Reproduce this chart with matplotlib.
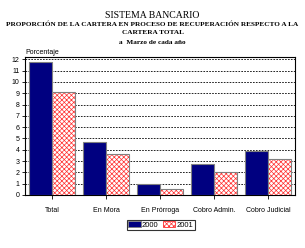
import numpy as np
import matplotlib
matplotlib.use("Agg")
import matplotlib.pyplot as plt
from matplotlib.patches import Patch

categorias = ["Total", "En Mora", "En Prórroga", "Cobro Admin.", "Cobro Judicial"]
valores_2000 = [11.8, 4.65, 0.95, 2.75, 3.85]
valores_2001 = [9.1, 3.6, 0.5, 2.0, 3.15]
yticks = list(range(0, 13))

plt.rcParams['hatch.linewidth'] = 0.5

fig = plt.figure(figsize=(3.05, 2.48), dpi=100)
ax = fig.add_axes([0.082, 0.214, 0.885, 0.556])

x = np.arange(len(categorias))
w = 0.43
ax.bar(x - w / 2, valores_2000, w, color='#000080', edgecolor='#808080', linewidth=0.8, zorder=3)
# hatch drawn in red, then a gray outline on top
ax.bar(x + w / 2, valores_2001, w, color='white', edgecolor='#ff3030', linewidth=0,
       hatch='xxxxxxx', zorder=3)
ax.bar(x + w / 2, valores_2001, w, color='none', edgecolor='#808080', linewidth=0.8, zorder=4)

ax.set_xlim(-0.5, len(categorias) - 0.5)
ax.set_ylim(0, 12.2)
ax.set_yticks(yticks)
ax.set_yticklabels([str(t) for t in yticks], fontsize=5, family='Liberation Sans')
ax.set_xticks(x)
ax.set_xticklabels(categorias, fontsize=5, family='Liberation Sans')
ax.tick_params(axis='y', length=2, width=0.6, pad=2)
ax.tick_params(axis='x', length=3, width=0.6, pad=6, direction='out')
ax.yaxis.grid(True, linestyle=(0, (2, 1.5)), color='black', linewidth=0.6, zorder=0)
for s in ax.spines.values():
    s.set_linewidth(0.8)

ax.text(0.0, 1.005, "Porcentaje", transform=ax.transAxes, fontsize=5, family='Liberation Sans',
        ha='left', va='bottom')

fig.text(0.5, 1 - 15 / 248, "SISTEMA BANCARIO", ha='center', va='center', fontsize=7,
         family='Liberation Serif')
fig.text(0.5, 1 - 24 / 248, "PROPORCIÓN DE LA CARTERA EN PROCESO DE RECUPERACIÓN RESPECTO A LA",
         ha='center', va='center', fontsize=5.2, family='Liberation Serif', fontweight='bold')
fig.text(0.5, 1 - 32 / 248, "CARTERA TOTAL", ha='center', va='center', fontsize=5.2,
         family='Liberation Serif', fontweight='bold')
fig.text(0.5, 1 - 42 / 248, "a  Marzo de cada año", ha='center', va='center', fontsize=5.2,
         family='Liberation Serif', fontweight='bold')

handles = [Patch(facecolor='#000080', edgecolor='#808080', linewidth=0.6, label='2000'),
           Patch(facecolor='white', edgecolor='#ff3030', hatch='xxxxxxx', linewidth=0.6, label='2001')]
leg = fig.legend(handles=handles, loc='center', bbox_to_anchor=(0.528, 1 - 225 / 248), ncol=2,
                 fontsize=5.5, frameon=True, fancybox=False, edgecolor='black', handlelength=1.6,
                 handleheight=0.8, handletextpad=0.2, columnspacing=0.6, borderpad=0.2, borderaxespad=0)
leg.get_frame().set_linewidth(0.8)
for t in leg.get_texts():
    t.set_family('Liberation Sans')

fig.savefig("out.png", dpi=100)
